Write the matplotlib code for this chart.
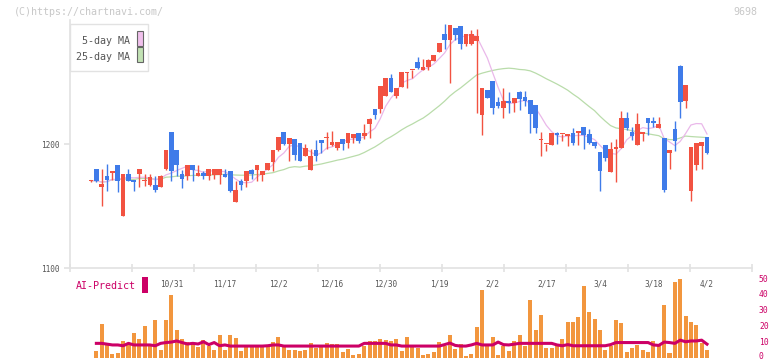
import numpy as np
import pandas as pd
import matplotlib
matplotlib.use('Agg')
from matplotlib import pyplot as plt
from matplotlib.patches import Rectangle
from matplotlib.transforms import ScaledTranslation

# daily candles (10/10 .. 4/2)
opens = [1170, 1180, 1165, 1174, 1177, 1183, 1142, 1176, 1171, 1176,
         1170, 1167, 1167, 1165, 1180, 1210, 1195, 1176, 1174.5, 1183,
         1174.5, 1176.5, 1174.5, 1175, 1175, 1176, 1178, 1153, 1170, 1170,
         1179, 1179, 1175, 1179, 1185.5, 1195, 1209.7, 1200, 1204, 1201,
         1190.6, 1179.3, 1195, 1203, 1204.5, 1199.4, 1197, 1204, 1200.8, 1205,
         1209, 1206.7, 1216.4, 1228, 1228.5, 1238.7, 1253, 1238.7, 1246, 1257,
         1259.3, 1266, 1260, 1262, 1267, 1274, 1288.7, 1283.8, 1293.5, 1295,
         1280.6, 1280.6, 1283, 1223.4, 1243.5, 1250.8, 1234, 1229, 1234.7, 1233,
         1242, 1238, 1235.5, 1231.4, 1203, 1199.8, 1199.2, 1209, 1207.8, 1206.4,
         1209, 1208.9, 1213.7, 1208, 1201.6, 1193.5, 1199, 1177.4, 1196, 1196.8,
         1221, 1209.7, 1199.2, 1208, 1221, 1218.5, 1212.9, 1204.8, 1192.7, 1212,
         1263, 1234.7, 1162, 1183, 1198.4, 1205.6]
highs = [1171, 1180, 1180, 1184, 1178, 1183, 1176, 1180, 1171, 1180,
         1176, 1176, 1174, 1175, 1195, 1210, 1195, 1179, 1183, 1183,
         1183, 1178, 1180, 1180, 1180, 1180, 1178, 1170, 1172, 1178,
         1180, 1183, 1178, 1185, 1195, 1205.6, 1210, 1205, 1204, 1201,
         1200, 1196, 1203, 1203, 1210, 1210.5, 1201.6, 1204, 1209, 1208,
         1209, 1216, 1221, 1228, 1246.7, 1253, 1256.4, 1245, 1258, 1258.3,
         1259.7, 1270, 1268.5, 1268.5, 1271.7, 1281.4, 1296.7, 1296, 1293.5, 1295,
         1288.7, 1292, 1292.7, 1245, 1243.5, 1250.8, 1238, 1245, 1242, 1237,
         1242.7, 1242.7, 1235.5, 1231.4, 1209.7, 1200.2, 1209, 1209.7, 1208.1, 1208,
         1212.9, 1210.5, 1213.7, 1212, 1201.6, 1193.5, 1199, 1201.6, 1204, 1226.6,
         1225.8, 1213.7, 1225, 1209.7, 1221, 1221.8, 1221.8, 1204.8, 1195.2, 1218.5,
         1263.7, 1247.6, 1197.6, 1200.8, 1201.6, 1205.6]
lows = [1169, 1169, 1150, 1162, 1171, 1161, 1142, 1170, 1162, 1165,
        1166, 1166, 1161.5, 1165, 1179, 1170, 1174, 1164.5, 1171, 1170,
        1174, 1172, 1171, 1172, 1168, 1173.5, 1161, 1153, 1163, 1165,
        1172, 1170, 1170, 1179, 1178, 1194, 1199, 1186, 1187, 1186,
        1190.6, 1179, 1186.5, 1192.5, 1196, 1198, 1195.5, 1195, 1197, 1201,
        1201, 1204, 1205, 1220, 1225, 1238.7, 1242, 1237, 1246, 1245,
        1253, 1260.7, 1260, 1260, 1267, 1274, 1276.6, 1249, 1284, 1276.6,
        1279, 1280, 1225, 1207, 1237, 1224, 1229, 1221, 1225, 1225.8,
        1227.4, 1230.6, 1209, 1209, 1190.3, 1194.4, 1199.2, 1200, 1202.4, 1198.4,
        1199.2, 1199.2, 1196, 1200, 1196.8, 1162, 1186, 1177.4, 1169.4, 1196.8,
        1211.3, 1203.2, 1199.2, 1202.4, 1207.3, 1213.7, 1212.9, 1161.6, 1179.8, 1194.4,
        1221, 1229, 1154, 1179, 1179.8, 1192]
closes = [1170.5, 1170, 1167.5, 1171, 1178, 1170, 1176, 1170, 1169.5, 1180,
          1170.5, 1173, 1163, 1174, 1195, 1178, 1183, 1172, 1183, 1179,
          1176.6, 1174.5, 1180, 1180, 1180, 1173.5, 1162, 1163, 1167, 1178,
          1176, 1183, 1178, 1185, 1195, 1205.6, 1200, 1205, 1191, 1186,
          1197, 1190, 1190.6, 1201, 1205, 1201.6, 1201.6, 1200, 1209, 1208,
          1202.7, 1209, 1220, 1223.4, 1246.7, 1253, 1242, 1245, 1258, 1258.3,
          1259.7, 1261.5, 1262, 1267.7, 1271.7, 1281.4, 1283.8, 1296, 1288, 1280.6,
          1288.7, 1288.7, 1287, 1245, 1237, 1229, 1230.6, 1234.7, 1233, 1237,
          1236.3, 1234.7, 1224, 1213, 1203.5, 1200.2, 1209, 1207.3, 1208.1, 1208,
          1200.8, 1210.5, 1207.3, 1200.8, 1198.4, 1178, 1189, 1196, 1197.6, 1221,
          1212.9, 1206.4, 1216, 1209.7, 1217, 1217, 1216, 1163, 1195.2, 1202.4,
          1234, 1247.6, 1197.6, 1200.8, 1201.6, 1192.7]

volume = [0, 4.4, 21, 8, 2.3, 3, 10.5, 8, 15.5, 11.7,
          20, 7.3, 23.6, 4.8, 23.6, 39.5, 17.4, 11.7, 9.8, 8.6,
          6.7, 11, 7.3, 4.8, 14.2, 4.8, 14.2, 12.3, 4.4, 7.3,
          7.3, 7.3, 7.3, 7.3, 9.8, 13, 7.3, 4.8, 4.8, 4.2,
          4.8, 9.2, 6, 7.3, 9.2, 8.6, 8.6, 3.6, 5.4, 1.7,
          2.3, 7.3, 10.5, 10.5, 11.7, 11, 10.5, 11.7, 4.2, 13,
          7.3, 6, 1.7, 2.3, 3.6, 9.8, 7.3, 14.2, 5.4, 8.6,
          1, 2.3, 19.2, 42.5, 7.3, 13, 1.7, 7.3, 4.2, 10.5,
          14.2, 7.3, 36.2, 17.4, 26.8, 6, 6, 7.3, 11.7, 22.4,
          22.4, 25.5, 45, 28.7, 24.3, 17.4, 4.8, 7.3, 23.6, 21.8,
          3.6, 6, 8, 4.8, 3.6, 10.5, 7.3, 33, 3, 47.5,
          49.4, 26, 22.4, 20.5, 9, 5]

predict = [np.nan, 9, 9, 8.5, 8, 8, 7.5, 9, 8, 8,
           8, 8, 7.5, 9, 9.5, 9.8, 10.5, 9.5, 8.6, 9,
           8.6, 10, 8.2, 9.5, 7.5, 8, 7.3, 7.3, 7.3, 7.3,
           7.3, 7.3, 7.3, 7.5, 8, 8, 7.3, 7.3, 7.3, 7.3,
           7.3, 7.3, 7.3, 7.3, 7.3, 7.3, 7.3, 7.3, 7.3, 7.3,
           7.3, 9, 9, 9, 9, 9, 8, 8, 7.3, 7.3,
           7.3, 7.3, 7.3, 7.3, 7.3, 7.3, 8.2, 9.2, 7.7, 7.3,
           7.3, 8, 9, 8, 8, 8, 9.8, 8.2, 8, 8.5,
           9, 9, 9, 9, 9, 9, 9, 8, 7.5, 8.2,
           7.5, 7.5, 7.5, 7.5, 7.5, 7.5, 7.5, 8.2, 9.5, 9.5,
           9.5, 9.5, 9.5, 9.5, 9.5, 8, 7.7, 9.8, 9.5, 9,
           11, 10, 10.5, 10.5, 11, 8.5]

date_labels = ['10/31', '11/17', '12/2', '12/16', '12/30', '1/19',
               '2/2', '2/17', '3/4', '3/18', '4/2']
date_idx = [15, 25, 35, 45, 55, 65, 75, 85, 95, 105, 115]

W, H = 772, 361
RED = '#f25241'
BLUE = '#3f7be9'
GRID = '#e2e2e2'
TXT = '#555555'
MONO = 'DejaVu Sans Mono'

o = np.array(opens); h = np.array(highs); l = np.array(lows); c = np.array(closes)
x = np.arange(len(c))
ma5 = pd.Series(c).rolling(5, min_periods=1).mean()
ma25 = pd.Series(c).rolling(25, min_periods=1).mean()
cols = [RED if cc >= oo else BLUE for oo, cc in zip(o, c)]

fig = plt.figure(figsize=(W / 100, H / 100), dpi=100)
ax = fig.add_axes([70 / W, 1 - 268 / H, 682 / W, 248 / H])
xl = (-3.92, 123.4)

ax.plot(x, ma25, color='#b9dcaa', lw=0.9, zorder=1)
ax.plot(x, ma5, color='#eab8ea', lw=0.9, zorder=1)
ax.vlines(x, l, h, colors=cols, lw=1.0, zorder=2)
ax.bar(x, np.maximum(np.abs(c - o), 1.2), bottom=np.minimum(o, c), width=0.88,
       color=cols, zorder=3)

ax.set_xlim(*xl)
ax.set_ylim(1100, 1300)
for s in ['top', 'right']:
    ax.spines[s].set_visible(False)
for s in ['left', 'bottom']:
    ax.spines[s].set_color(GRID)
    ax.spines[s].set_linewidth(1.2)
ax.set_yticks([1100, 1200])
ax.set_yticklabels(['1100', '1200'], fontsize=5.6, family=MONO, color=TXT)
ax.tick_params(axis='y', length=4.5, color=GRID, width=1.2, pad=3)
ax.set_xticks([x[i] for i in date_idx])
ax.set_xticklabels(date_labels, fontsize=5.6, family=MONO, color=TXT)
ax.tick_params(axis='x', which='major', length=0, pad=8)
ax.set_xticks(np.linspace(xl[0], xl[1], 12), minor=True)
ax.tick_params(axis='x', which='minor', length=6, direction='inout', color=GRID, width=1.2)
ax.set_facecolor('none')

# volume panel
vax = fig.add_axes([70 / W, 1 - 357.7 / H, 682 / W, 79.7 / H])
vax.bar(x, volume, width=0.75, color='#f2963e', zorder=1)
vax.plot(x, predict, color='#cc0066', lw=2.2, zorder=2)
vax.set_xlim(*xl)
vax.set_ylim(0, 50)
for s in vax.spines.values():
    s.set_visible(False)
vax.set_xticks([])
vax.yaxis.tick_right()
vax.set_yticks([0, 10, 20, 30, 40, 50])
vax.set_yticklabels(['0', '10', '20', '30', '40', '50'], fontsize=5.8, family=MONO,
                    color='#cc0066')
vax.tick_params(axis='y', length=0, pad=5)
vax.set_facecolor('none')
lab0 = vax.get_yticklabels()[0]
lab0.set_transform(lab0.get_transform() + ScaledTranslation(0, 2 / 100, fig.dpi_scale_trans))

def fx(px):
    return px / W

def fy(py):
    return 1 - py / H

# legend
fig.add_artist(Rectangle((fx(70), fy(71)), fx(78), 47 / H, transform=fig.transFigure,
                         facecolor='white', edgecolor=GRID, lw=1))
fig.add_artist(Rectangle((fx(136.5), fy(46)), fx(6), 15 / H, transform=fig.transFigure,
                         facecolor='#f0c0ec', edgecolor='#666666', lw=0.8))
fig.add_artist(Rectangle((fx(136.5), fy(62)), fx(6), 15 / H, transform=fig.transFigure,
                         facecolor='#c2e2b4', edgecolor='#666666', lw=0.8))
fig.text(fx(130), fy(41), '5-day MA', ha='right', va='center', fontsize=7.2,
         family=MONO, color=TXT)
fig.text(fx(130), fy(57), '25-day MA', ha='right', va='center', fontsize=7.2,
         family=MONO, color=TXT)

fig.text(fx(14), fy(12), '(C)https://chartnavi.com/', ha='left', va='center',
         fontsize=7.2, family=MONO, color='#c8c8c8')
fig.text(fx(757), fy(12), '9698', ha='right', va='center', fontsize=7.2,
         family=MONO, color='#c8c8c8')

fig.text(fx(76), fy(286), 'AI-Predict', ha='left', va='center', fontsize=7.2,
         family=MONO, color='#cc0066')
fig.add_artist(Rectangle((fx(142), fy(293)), fx(6), 16 / H, transform=fig.transFigure,
                         facecolor='#cc0066', edgecolor='none'))

fig.savefig('out.png', dpi=100)
